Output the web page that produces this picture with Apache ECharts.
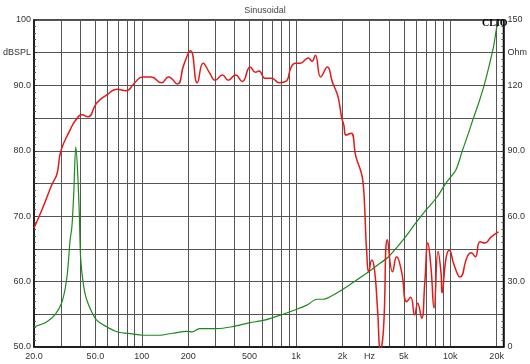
<!DOCTYPE html>
<html><head><meta charset="utf-8">
<script src="https://cdn.jsdelivr.net/npm/echarts@6/dist/echarts.min.js"></script>
<style>html,body{margin:0;padding:0;background:#fff}#c{width:530px;height:364px}</style>
</head><body><div id="c"></div>
<script>
// Frequency response (dB SPL, left axis)
var splFreq = [20,22.8,26.1,28.2,29.9,34.3,37.3,40.9,44.6,51,59,69,79,90,101,115,134,149,170,187,207,229,250,274,300,333,364,405,448,505,546,575,630,695,780,860,930,990,1060,1160,1200,1270,1334,1448,1597,1722,1830,1893,1980,2040,2114,2276,2446,2640,2720,2780,2826,2870,2960,3100,3230,3380,3530,3690,3920,4230,4490,4840,5220,5540,5880,6150,6530,6840,7160,7500,7860,8340,8720,8850,9400,9850,10610,11600,12900,13700,14550,15600,16800,18400,20540];
var splDb = [68.2,71.3,74.8,76.5,80.0,83.2,84.7,85.5,85.2,87.3,88.5,89.4,89.2,90.4,91.3,91.3,90.4,91.3,90.2,93.1,95.3,90.4,93.4,92.0,90.8,91.6,90.8,91.6,90.6,92.8,92.0,92.2,91.1,91.1,90.4,90.6,92.8,93.4,93.4,94.0,94.2,93.7,94.6,91.3,92.8,90.5,89.0,87.8,85.0,84.0,82.4,82.7,79.1,76.8,75.2,72.0,67.9,64.8,61.5,63.3,61.8,55.7,49.5,52.6,66.4,61.5,63.8,61.5,56.9,57.6,54.9,56.7,54.4,59.8,65.9,62.2,56.0,64.6,61.3,58.3,63.6,64.8,62.5,60.7,63.8,64.4,63.8,66.1,65.9,66.8,67.6];
// Impedance (Ohm, right axis)
var impFreq = [20,24,27.3,30.4,32.7,34.3,35.2,36.2,37.3,38.3,39.4,40.2,42.7,46,51,59,70,87,101,130,158,195,213,236,305,386,496,624,798,992,1175,1370,1500,1700,1980,2356,2960,3320,3980,4960,6000,7000,8200,9400,10900,11900,13000,14000,15300,16500,17800,19200,20000,20500];
var impOhm = [9.3,11.4,14.7,20.7,32.1,49.2,54.9,70.5,91.8,81.3,59.7,39.9,24.9,18,12.3,9.3,6.9,6.0,5.4,5.4,6.3,7.2,6.9,8.4,8.4,9.3,11.1,12.3,14.7,17.1,19.2,21.9,21.9,23.4,26.1,29.7,34.5,37.2,41.4,49.2,57,63,68.7,75.3,81.3,89.4,97.2,104.1,111.9,119.4,128.4,138.6,146.4,148.5];
// Axis ticks
var xLabelFreqs = [20,50,100,200,500,1000,2000,3000,5000,10000,20000];
var xLabelTexts = ['20.0','50.0','100','200','500','1k','2k','Hz','5k','10k','20k'];
var xGridFreqs = [20,30,40,50,60,70,80,90,100,200,300,400,500,600,700,800,900,1000,2000,3000,4000,5000,6000,7000,8000,9000,10000,20000];
var leftLabels = {100:'100',95:'dBSPL',90:'90.0',80:'80.0',70:'70.0',60:'60.0',50:'50.0'};
var rightLabels = {150:'150',135:'Ohm',120:'120',90:'90.0',60:'60.0',30:'30.0',0:'0'};
var xMinHz = 20, xMaxHz = 22160;

function lg(v){return Math.log10(v);}
var splData = splFreq.map(function(f,i){return [lg(f), splDb[i]];});
var impData = impFreq.map(function(f,i){return [lg(f), impOhm[i]];});
var labelMap = {};
xLabelFreqs.forEach(function(f,i){labelMap[f]=xLabelTexts[i];});

var font = 'Arial, "Liberation Sans", sans-serif';
var chart = echarts.init(document.getElementById('c'));
chart.setOption({
  animation:false,
  backgroundColor:'#fff',
  title:{text:'Sinusoidal', left:'center', top:1, textStyle:{fontSize:9, fontWeight:'normal', color:'#444', fontFamily:font}},
  grid:{left:34, right:25, top:20, bottom:17, show:true, borderColor:'#111', borderWidth:1.5},
  xAxis:{type:'value', min:lg(xMinHz), max:lg(xMaxHz),
    axisLine:{show:true, lineStyle:{color:'#111', width:1.5}},
    axisTick:{show:false, customValues:xGridFreqs.map(lg)},
    axisLabel:{customValues:xLabelFreqs.map(lg), fontSize:9, color:'#333', fontFamily:font, margin:5,
      formatter:function(v){var f=Math.round(Math.pow(10,v)); return labelMap[f]||'';}},
    splitLine:{show:true, lineStyle:{color:'#555', width:1}}
  },
  yAxis:[
    {type:'value', min:50, max:100, interval:5, position:'left',
     axisLine:{show:true, lineStyle:{color:'#111', width:1.5}},
     axisTick:{show:true, inside:true, length:3, lineStyle:{color:'#333'}},
     minorTick:{show:true, splitNumber:5, length:2, lineStyle:{color:'#555'}},
     axisLabel:{fontSize:9, color:'#333', fontFamily:font, margin:3, formatter:function(v){return leftLabels[v]||'';}},
     splitLine:{show:true, lineStyle:{color:'#555', width:1}}},
    {type:'value', min:0, max:150, interval:15, position:'right',
     axisLine:{show:true, lineStyle:{color:'#111', width:1.5}},
     axisTick:{show:true, inside:true, length:3, lineStyle:{color:'#333'}},
     minorTick:{show:true, splitNumber:5, length:2, lineStyle:{color:'#555'}},
     axisLabel:{fontSize:9, color:'#333', fontFamily:font, margin:4, formatter:function(v){return rightLabels[v]||'';}},
     splitLine:{show:false}}
  ],
  graphic:[{type:'text', left:482, top:18, style:{text:'CLIO', font:'bold 10px "Liberation Serif", "DejaVu Serif", serif', fill:'#000'}, z:10}],
  series:[
    {type:'line', yAxisIndex:0, data:splData, showSymbol:false, smooth:0.5, clip:true,
     lineStyle:{color:'#e31a1a', width:1.5}, z:3},
    {type:'line', yAxisIndex:1, data:impData, showSymbol:false, smooth:0.3, clip:true,
     lineStyle:{color:'#1a8a1a', width:1.2}, z:2}
  ]
});
</script></body></html>
